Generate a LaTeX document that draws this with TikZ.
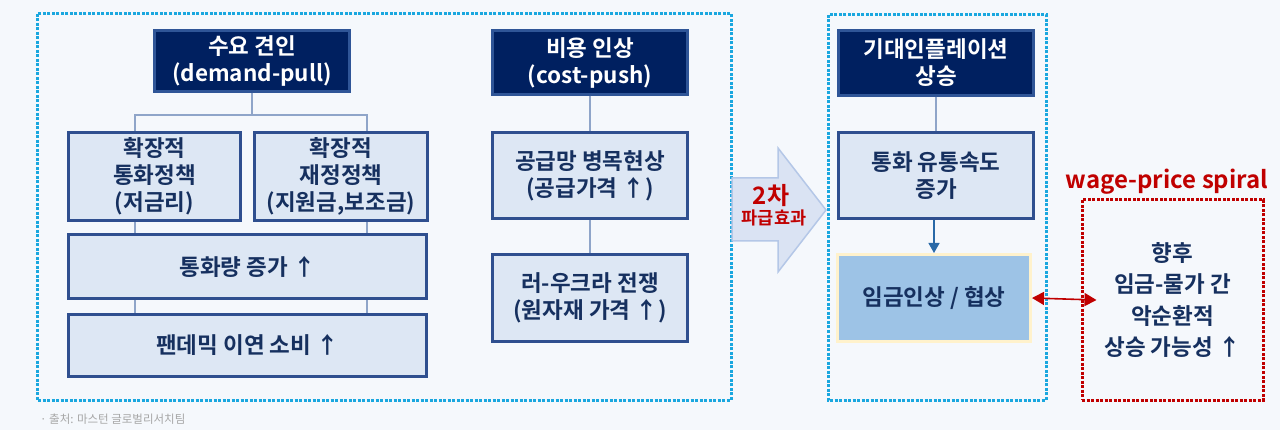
\documentclass[tikz,border=0pt]{standalone}
\usepackage{fontspec}
\setmainfont{Noto Sans CJK KR}[BoldFont={Noto Sans CJK KR Bold}]
\usetikzlibrary{arrows.meta,calc}
\definecolor{bg}{HTML}{F5F8FC}
\definecolor{navyfill}{HTML}{002060}
\definecolor{navyline}{HTML}{2F5597}
\definecolor{lightfill}{HTML}{DDE7F4}
\definecolor{boxline}{HTML}{2F4F8F}
\definecolor{txt}{HTML}{16305F}
\definecolor{conn}{HTML}{8FA5C9}
\definecolor{cyanb}{HTML}{1AA7DF}
\definecolor{redd}{HTML}{C00000}
\definecolor{wagefill}{HTML}{9DC3E6}
\definecolor{wageline}{HTML}{FFF2CC}
\definecolor{arrfill}{HTML}{DAE3F3}
\definecolor{arrline}{HTML}{B4C7E7}
\definecolor{srcgray}{HTML}{A6A6A6}
\begin{document}
\begin{tikzpicture}[x=1pt,y=-1pt,
  navybox/.style={fill=navyfill, draw=navyline, line width=2.5pt, text=white,
    font=\bfseries\fontsize{22.5}{27}\selectfont, align=center, inner sep=0pt},
  lightbox/.style={fill=lightfill, draw=boxline, line width=3pt, text=txt,
    font=\bfseries\fontsize{22.5}{27}\selectfont, align=center, inner sep=0pt},
  wagebox/.style={fill=wagefill, draw=wageline, line width=3pt, text=txt,
    font=\bfseries\fontsize{22.5}{27}\selectfont, align=center, inner sep=0pt},
  conline/.style={draw=conn, line width=1.2pt},
  dotbox/.style={line width=3pt, dash pattern=on 3pt off 1.5pt},
]
\fill[bg] (0,0) rectangle (1280,430);
\useasboundingbox (0,0) rectangle (1280,430);

% dotted group frames
\draw[dotbox, draw=cyanb] (37,14) rectangle (731,400);
\draw[dotbox, draw=cyanb] (828,15) rectangle (1046,400);

% demand-pull column
\node[navybox, minimum width=195pt, minimum height=61pt] (d) at (252,61) {수요 견인\\(demand-pull)};
\node[lightbox, minimum width=172pt, minimum height=88pt] (mon) at (154.5,176.5) {확장적\\통화정책\\(저금리)};
\node[lightbox, minimum width=173pt, minimum height=88pt] (fis) at (341,176.5) {확장적\\재정정책\\(지원금,보조금)};
\node[lightbox, minimum width=358pt, minimum height=64pt] (money) at (247.5,266.5) {통화량 증가 ↑};
\node[lightbox, minimum width=358pt, minimum height=62pt] (pan) at (247.5,345.5) {팬데믹 이연 소비 ↑};

\coordinate (cl) at (135,0);
\coordinate (cr) at (367,0);
\coordinate (jy) at (0,115);
\draw[conline] (d.south) -- (d.south |- jy);
\draw[conline] (mon.north -| cl) |- (jy -| cr) -- (fis.north -| cr);
\draw[conline] (mon.south -| cl) -- (money.north -| cl);
\draw[conline] (fis.south -| cr) -- (money.north -| cr);
\draw[conline] (money.south -| cl) -- (pan.north -| cl);
\draw[conline] (money.south -| cr) -- (pan.north -| cr);

% cost-push column
\node[navybox, minimum width=195pt, minimum height=64pt] (c) at (590,62.5) {비용 인상\\(cost-push)};
\node[lightbox, minimum width=195pt, minimum height=86pt] (sup) at (590,175.5) {공급망 병목현상\\(공급가격 ↑)};
\node[lightbox, minimum width=195pt, minimum height=87pt] (war) at (590,298) {러-우크라 전쟁\\(원자재 가격 ↑)};
\draw[conline] (c.south) -- (sup.north);
\draw[conline] (sup.south) -- (war.north);

% block arrow
\draw[fill=arrfill, draw=arrline, line width=1.5pt, line join=miter]
  (732,178) -- (778,178) -- (778,148) -- (826,210) -- (778,272) -- (778,241) -- (732,241) -- cycle;
\node[text=redd, font=\bfseries\fontsize{24}{24}\selectfont, inner sep=0pt] (t2) at (771,196) {2차};
\node[text=redd, font=\bfseries\fontsize{17.5}{17.5}\selectfont, inner sep=0pt] (t3) at (774,218) {파급효과};

% expectations column
\node[navybox, minimum width=195pt, minimum height=65pt] (e) at (936,63) {기대인플레이션\\상승};
\node[lightbox, minimum width=195pt, minimum height=86pt] (vel) at (936,175.5) {통화 유통속도\\증가};
\node[wagebox, minimum width=193pt, minimum height=87pt] (wage) at (934,298) {임금인상 / 협상};
\draw[conline] (e.south) -- (e.south |- vel.north);
\draw[draw=boxline!70!cyanb, line width=1.3pt, -{Triangle[length=10pt,width=11pt]}] (vel.south -| wage.north) -- (wage.north);

% spiral
\node[text=redd, font=\bfseries\fontsize{24}{24}\selectfont, inner sep=0pt] (wps) at (1167,182) {wage-price spiral};
\node[dotbox, draw=redd, minimum width=181pt, minimum height=200pt, text=txt,
  font=\bfseries\fontsize{22.5}{31.5}\selectfont, align=center, inner sep=0pt] (spiral) at (1172.5,300)
  {향후\\임금-물가 간\\악순환적\\상승 가능성 ↑};
\coordinate (tipR) at ($(spiral.west)+(16,0)$);
\draw[draw=redd, line width=1.6pt, {Triangle[length=12pt,width=13pt]}-{Triangle[length=12pt,width=13pt]}] (wage.east) -- (tipR);

% source
\node[anchor=west, text=srcgray, font=\fontsize{11.5}{11.5}\selectfont, inner sep=0pt] (src) at (40,419) {· 출처: 마스턴 글로벌리서치팀};
\end{tikzpicture}
\end{document}
